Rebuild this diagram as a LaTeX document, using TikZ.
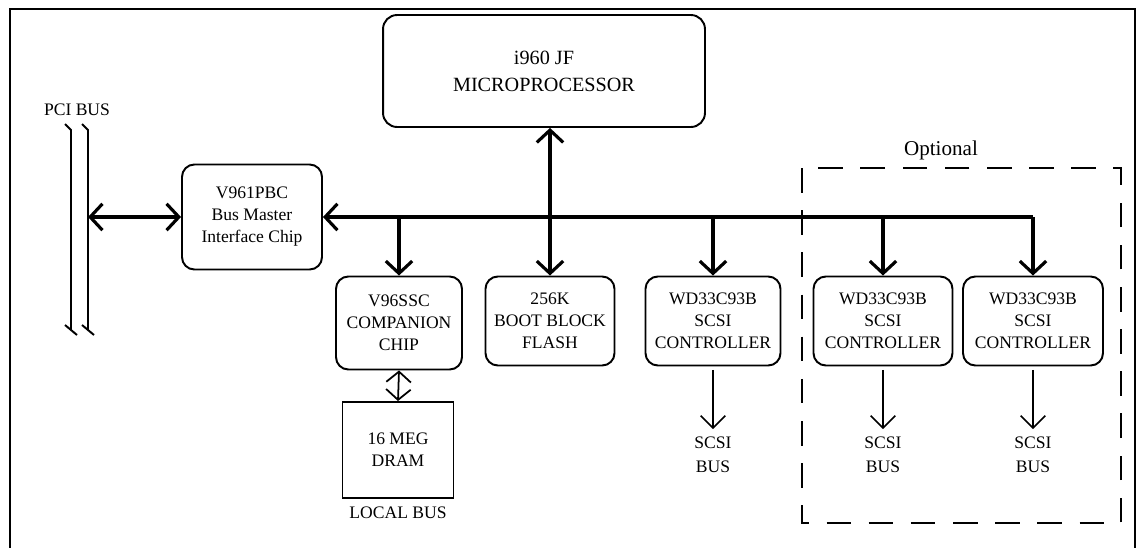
\documentclass[tikz,border=0pt]{standalone}
\usepackage{fontspec}
\setmainfont{Liberation Serif}
\usetikzlibrary{arrows.meta, positioning}
\tikzset{
  every picture/.style={line width=1.1pt},
  chip/.style={draw, rounded corners=7pt, align=center, inner sep=2pt, font=\fontsize{10}{12.5}\selectfont},
  fatarrow/.style={line width=1.8pt, -{Straight Barb[length=7pt, width=15pt]}},
  fatboth/.style={line width=1.8pt, {Straight Barb[length=7pt, width=15pt]}-{Straight Barb[length=7pt, width=15pt]}},
  thinarrow/.style={line width=0.9pt, -{Straight Barb[length=7pt, width=14pt]}},
  thinboth/.style={line width=1pt, {Straight Barb[length=6pt, width=14pt]}-{Straight Barb[length=6pt, width=14pt]}},
  lbl/.style={align=center, inner sep=1pt, font=\fontsize{10}{13.7}\selectfont},
  optframe/.style={line width=0.6pt, dash pattern=on 14pt off 10pt},
}

\begin{document}
\begin{tikzpicture}[x=0.02cm, y=-0.02cm]
  \useasboundingbox (0,0) rectangle (1137,548);
  \draw[line width=1.5pt] (10,600) -- (10,9) -- (1135,9) -- (1135,600);

  \node[chip, rounded corners=8pt, minimum width=6.44cm, minimum height=2.24cm, font=\fontsize{11.5}{15.4}\selectfont] (mp) at (544,71) {i960 JF\\MICROPROCESSOR};
  \node[chip, minimum width=2.8cm, minimum height=2.1cm] (pbc) at (252,217) {V961PBC\\Bus Master\\Interface Chip};
  \node[chip, minimum width=2.52cm, minimum height=1.86cm] (ssc) at (399,323) {V96SSC\\COMPANION\\CHIP};
  \node[chip, minimum width=2.58cm, minimum height=1.78cm] (flash) at (550,321) {256K\\BOOT BLOCK\\FLASH};
  \node[chip, minimum width=2.7cm, minimum height=1.78cm] (scsi1) at (713,321) {WD33C93B\\SCSI\\CONTROLLER};
  \node[chip, minimum width=2.78cm, minimum height=1.78cm] (scsi2) at (883,321) {WD33C93B\\SCSI\\CONTROLLER};
  \node[chip, minimum width=2.8cm, minimum height=1.78cm] (scsi3) at (1033,321) {WD33C93B\\SCSI\\CONTROLLER};
  \node[chip, rounded corners=0pt, minimum width=2.22cm, minimum height=1.92cm] (dram) at (398,450) {16 MEG\\DRAM};
  \node[lbl, below=3pt of dram] (local) {LOCAL BUS};

  \node[lbl] (pcilbl) at (77,110) {PCI BUS};
  \foreach \x in {71,88} {
    \draw (\x-6,124) -- (\x,130) -- (\x,330);
    \draw (\x-6,325) -- (\x+6,335);
  }
  \coordinate (pci) at (88,217);
  \draw[fatboth] (pci) -- (pbc.west);

  \coordinate (bend) at (scsi3.north |- pbc.east);
  \draw[fatarrow] (bend) -- (pbc.east);
  \draw[fatarrow] (bend) -- (scsi3.north);
  \foreach \n in {ssc, scsi1, scsi2}
    \draw[fatarrow] (\n.north |- bend) -- (\n.north);
  \draw[fatboth] (flash.north |- mp.south) -- (flash.north);
  \draw[thinboth] (ssc.south) -- (dram.north);

  \foreach \n/\b in {scsi1/sb1, scsi2/sb2, scsi3/sb3} {
    \path (\n.south) ++(0,68) node[lbl, anchor=north] (\b) {SCSI\\BUS};
    \draw[thinarrow] ([yshift=-2pt]\n.south) -- ([yshift=3pt]\b.north);
  }

  \draw[optframe] (802,168) rectangle (1121,523);
  \node[font=\fontsize{12}{14}\selectfont] (opt) at (941,150) {Optional};
\end{tikzpicture}
\end{document}
